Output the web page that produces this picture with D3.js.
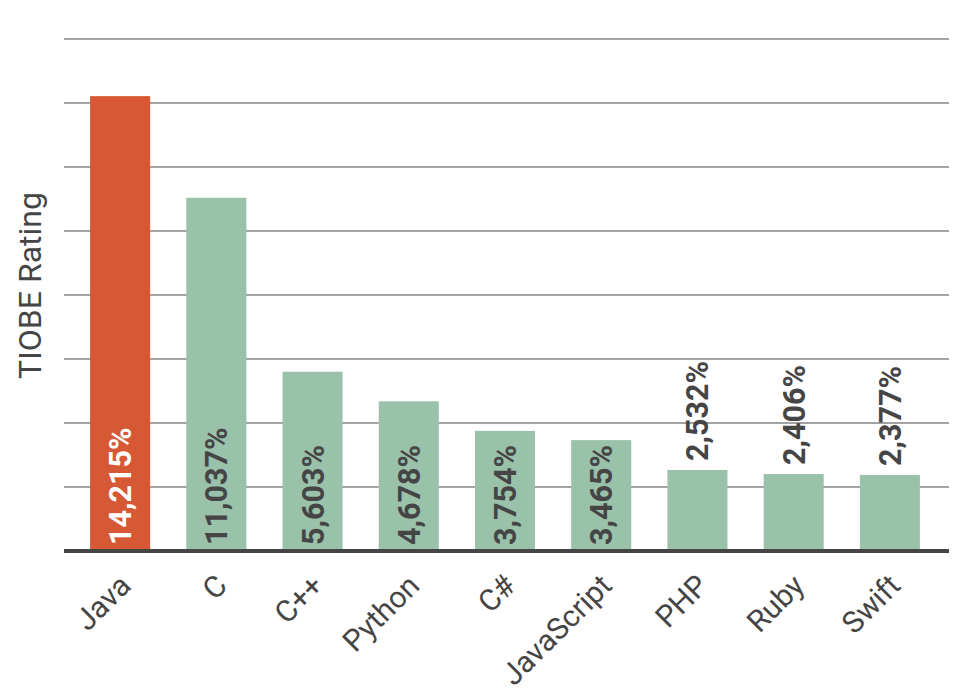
<!DOCTYPE html>
<html><head><meta charset="utf-8">
<script src="https://cdn.jsdelivr.net/npm/d3@7"></script>
<style>body{margin:0;background:#fff}svg{display:block}</style>
</head><body>
<svg id="chart" width="980" height="700"></svg>
<script>
const categories = ["Java","C","C++","Python","C#","JavaScript","PHP","Ruby","Swift"];
const values = [14.215,11.037,5.603,4.678,3.754,3.465,2.532,2.406,2.377];
const labels = ["14,215%","11,037%","5,603%","4,678%","3,754%","3,465%","2,532%","2,406%","2,377%"];
const highlight = ["Java"];
const gridTicks = [2,4,6,8,10,12,14,16];
const yTitle = "TIOBE Rating";

(function(){
const svg = d3.select("#chart");
const pLeft = 64, pRight = 949, pTop = 39, pBottom = 551;
const x = d3.scaleBand().domain(categories).range([72, 938]).paddingInner(0.376).paddingOuter(0.188);
const y = d3.scaleLinear().domain([0, 16]).range([pBottom, pTop]);

svg.append("g").selectAll("line").data(gridTicks).join("line")
  .attr("x1", pLeft).attr("x2", pRight)
  .attr("y1", d => y(d)).attr("y2", d => y(d))
  .attr("stroke", "#a3a3a3").attr("stroke-width", 2);

svg.append("g").selectAll("rect").data(categories).join("rect")
  .attr("x", d => x(d)).attr("width", x.bandwidth())
  .attr("y", (d,i) => y(values[i])).attr("height", (d,i) => y(0) - y(values[i]))
  .attr("fill", d => highlight.includes(d) ? "#d65834" : "#9ac1aa");

svg.append("line").attr("x1", pLeft).attr("x2", pRight)
  .attr("y1", y(0)).attr("y2", y(0)).attr("stroke", "#454545").attr("stroke-width", 4);

const font = "Roboto, 'Noto Sans', sans-serif";
svg.append("g").selectAll("text").data(categories).join("text")
  .attr("transform", (d,i) => {
    const cx = x(d) + x.bandwidth()/2 + 11;
    const inside = values[i] > 3;
    const yy = inside ? y(0) - 6 : y(values[i]) - 9;
    return `translate(${cx},${yy}) rotate(-90)`;
  })
  .attr("font-family", font).attr("font-weight", 700).attr("font-size", 30.5)
  .attr("fill", d => highlight.includes(d) ? "#ffffff" : "#454545")
  .text((d,i) => labels[i]);

svg.append("g").selectAll("text").data(categories).join("text")
  .attr("transform", d => `translate(${x(d) + x.bandwidth()/2 + 5},${580}) rotate(-45)`)
  .attr("text-anchor", "end").attr("dy", "0.35em")
  .attr("font-family", font).attr("font-size", 30).attr("fill", "#454545")
  .text(d => d);

svg.append("text")
  .attr("transform", `translate(41,${(193+378)/2}) rotate(-90)`)
  .attr("text-anchor", "middle")
  .attr("font-family", font).attr("font-size", 32).attr("fill", "#454545")
  .text(yTitle);
})();
</script>
</body></html>
